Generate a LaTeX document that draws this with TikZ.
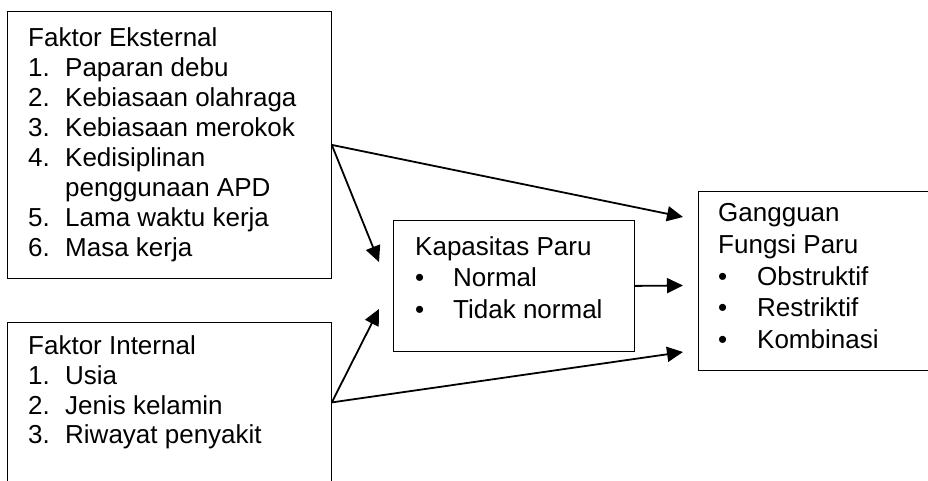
\documentclass[tikz,border=0pt]{standalone}
\usepackage{fontspec}
\setmainfont{Liberation Sans}
\usetikzlibrary{arrows.meta}
\begin{document}
\begin{tikzpicture}[x=1pt,y=-1pt,
 box/.style={draw, line width=0.8pt, inner sep=0pt, anchor=north west},
 txta/.style={anchor=north west, inner sep=0pt, font=\fontsize{26}{29.9}\selectfont, align=left},
 txtb/.style={anchor=north west, inner sep=0pt, font=\fontsize{26}{31.7}\selectfont, align=left},
 arr/.style={line width=1.8pt, -{Triangle[length=16pt,width=15pt]}}]
\useasboundingbox (0,0) rectangle (928,480);
\node[box, minimum width=324pt, minimum height=267pt] (ext) at (7,11) {};
\node[box, minimum width=324pt, minimum height=160pt] (int) at (7,322) {};
\node[box, minimum width=241pt, minimum height=131pt] (kap) at (393,220) {};
\node[box, minimum width=234pt, minimum height=179pt] (gan) at (698,191) {};
\node[txta] (extt) at (28,25.8) {\begin{tabular}{@{}p{37pt}@{}l@{}}
\multicolumn{2}{@{}l@{}}{Faktor Eksternal}\\
1. & Paparan debu\\
2. & Kebiasaan olahraga\\
3. & Kebiasaan merokok\\
4. & Kedisiplinan\\
   & penggunaan APD\\
5. & Lama waktu kerja\\
6. & Masa kerja
\end{tabular}};
\node[txta] (intt) at (28,333.1) {\begin{tabular}{@{}p{37pt}@{}l@{}}
\multicolumn{2}{@{}l@{}}{Faktor Internal}\\
1. & Usia\\
2. & Jenis kelamin\\
3. & Riwayat penyakit
\end{tabular}};
\node[txtb] (kapt) at (415,232.8) {\begin{tabular}{@{}p{38pt}@{}l@{}}
\multicolumn{2}{@{}l@{}}{Kapasitas Paru}\\
\textbullet & Normal\\
\textbullet & Tidak normal
\end{tabular}};
\node[txtb] (gant) at (718,199.5) {\begin{tabular}{@{}p{39pt}@{}l@{}}
\multicolumn{2}{@{}l@{}}{Gangguan}\\
\multicolumn{2}{@{}l@{}}{Fungsi Paru}\\
\textbullet & Obstruktif\\
\textbullet & Restriktif\\
\textbullet & Kombinasi
\end{tabular}};
\coordinate (t1) at (379,262);
\coordinate (t2) at (683,217);
\coordinate (t3) at (379,309);
\coordinate (t4) at (683,352);
\coordinate (t5) at (683,285.5);
\draw[arr] (ext.east) -- (t1);
\draw[arr] (ext.east) -- (t2);
\draw[arr] (int.east) -- (t3);
\draw[arr] (int.east) -- (t4);
\draw[arr] (kap.east) -- (t5);
\end{tikzpicture}
\end{document}
